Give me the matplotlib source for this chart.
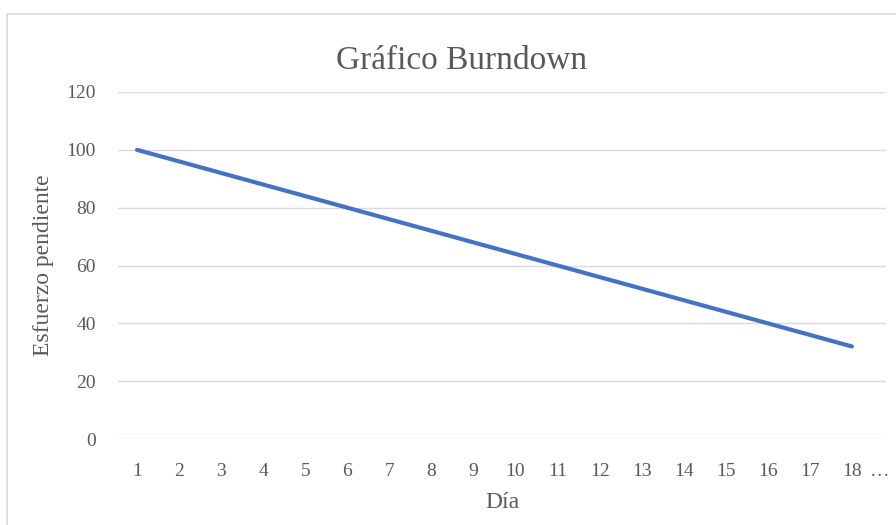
import matplotlib.pyplot as plt
from matplotlib.patches import Rectangle

# Data
dias = list(range(1, 19))
esfuerzo = [100, 96, 92, 88, 84, 80, 76, 72, 68, 64, 60, 56, 52, 48, 44, 40, 36, 32]
etiquetas_x = [str(d) for d in dias] + ["…"]
ticks_y = [0, 20, 40, 60, 80, 100, 120]

plt.rcParams['font.family'] = ['Liberation Serif', 'DejaVu Serif']

W, H = 896, 525
fig = plt.figure(figsize=(W / 100, H / 100), dpi=100)
ax = fig.add_axes([118 / W, 1 - 439 / H, (886 - 118) / W, (439 - 92) / H])

# Chart area border
fig.patches.append(Rectangle((7 / W, -0.01), 1.0, 1 - 14 / H + 0.01,
                             transform=fig.transFigure, fill=False,
                             edgecolor='#D9D9D9', linewidth=1.2))

ax.plot(dias, esfuerzo, color='#4472C4', linewidth=3.0, solid_capstyle='round')

ax.set_ylim(0, 120)
ax.set_yticks(ticks_y)
ax.set_xlim(0.548, 18.81)
ax.set_xticks(dias + [18.66])
ax.set_xticklabels(etiquetas_x)

ax.grid(axis='y', color='#D9D9D9', linewidth=1.0)
ax.set_axisbelow(True)
for s in ax.spines.values():
    s.set_visible(False)
ax.tick_params(length=0, labelsize=14, labelcolor='#595959')
ax.tick_params(axis='y', pad=16)
ax.tick_params(axis='x', pad=17)

ax.set_ylabel('Esfuerzo pendiente', fontsize=17, color='#595959', va='center')
ax.yaxis.set_label_coords((44 - 118) / 768, 0.5)
ax.set_xlabel('Día', fontsize=17, color='#595959', va='center')
ax.xaxis.set_label_coords(0.5, (439 - 502) / 347)

fig.text(462 / W, 1 - 61 / H, 'Gráfico Burndown', ha='center', va='center',
         fontsize=24, color='#595959')

fig.savefig('out.png', dpi=100)
